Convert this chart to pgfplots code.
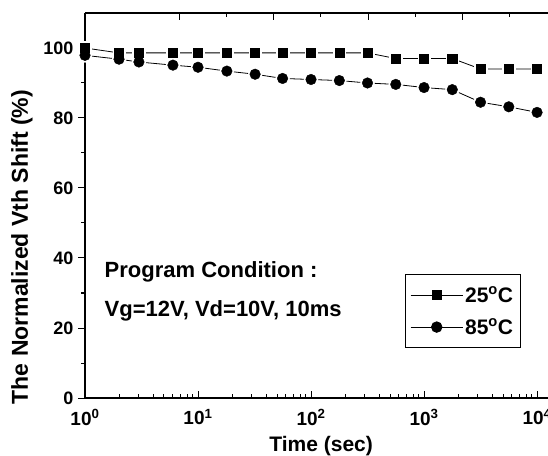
\documentclass[border=0pt]{standalone}
\usepackage{fontspec}
\setmainfont{Liberation Sans}
\usepackage{pgfplots}
\pgfplotsset{compat=1.18}

% retention data, normalized Vth shift (%)
\pgfplotstableread{
t     v
1     100
2     98.6
3     98.6
6     98.6
10    98.6
18    98.6
32    98.6
56    98.6
100   98.6
178   98.6
316   98.6
562   97.0
1000  97.0
1778  97.0
3162  94.0
5623  94.0
10000 94.0
}\roomtemp
\pgfplotstableread{
t     v
1     97.9
2     96.8
3     96.0
6     95.1
10    94.5
18    93.4
32    92.5
56    91.3
100   91.0
178   90.7
316   90.0
562   89.6
1000  88.7
1778  88.1
3162  84.5
5623  83.2
10000 81.6
}\hightemp

\begin{document}
\begin{tikzpicture}
\pgfplotsset{
  every axis/.append style={
    width=463pt, height=385pt, scale only axis,
    axis line style={line width=1.1pt},
    major tick length=7pt, minor tick length=4pt,
    every tick/.style={line width=1pt, black},
  },
}
% top axis ticks only (linear spacing, as in the original)
\begin{axis}[
  xmin=0, xmax=9.81, ymin=0, ymax=110,
  axis x line*=top, axis y line=none,
  xtick={2,4,6,8,10}, minor x tick num=1,
  xticklabels={}, xtick align=inside,
]
\addplot[draw=none, forget plot] coordinates {(0,0)};
\end{axis}

\begin{axis}[
  xmode=log, xmin=1, xmax=12500, ymin=0, ymax=110,
  axis x line*=bottom, axis y line*=left,
  xtick align=inside, ytick align=outside,
  xtick={1,10,100,1000,10000},
  xticklabels={10\textsuperscript{0},10\textsuperscript{1},10\textsuperscript{2},10\textsuperscript{3},10\textsuperscript{4}},
  ytick={0,20,40,60,80,100}, minor y tick num=1,
  /pgf/number format/assume math mode=true,
  ticklabel style={font=\bfseries\fontsize{18}{18}\selectfont},
  xticklabel style={yshift=-8pt, font=\bfseries\fontsize{19}{19}\selectfont},
  yticklabel style={xshift=-1pt},
  xlabel={Time (sec)}, ylabel={The Normalized Vth Shift (\%)},
  xlabel style={at={(axis description cs:0.510,-0.124)}, anchor=center,
    inner sep=0pt, font=\bfseries\fontsize{21}{21}\selectfont},
  ylabel style={at={(axis description cs:-0.136,0.392)}, anchor=center,
    font=\bfseries\fontsize{23}{23}\selectfont},
  clip=false,
  legend style={at={(axis description cs:0.691,0.130)}, anchor=south west,
    draw=black, line width=0.8pt, font=\bfseries\fontsize{21}{21}\selectfont,
    inner xsep=5pt, inner ysep=10pt, row sep=11pt,
    /tikz/every even column/.append style={column sep=10pt}},
  legend cell align=left,
  legend image code/.code={%
    \draw[mark repeat=2,mark phase=2,#1] plot coordinates {(0pt,0pt)(26pt,0pt)(52pt,0pt)};},
]
% connecting lines
\addplot[black, line width=0.8pt, forget plot] table[x=t,y=v] {\roomtemp};
\addplot[black, line width=0.8pt, forget plot] table[x=t,y=v] {\hightemp};
% white halos so lines stop short of the marks
\addplot[only marks, mark=square*, mark size=6.3pt, white, forget plot] table[x=t,y=v] {\roomtemp};
\addplot[only marks, mark=*, mark size=7pt, white, forget plot] table[x=t,y=v] {\hightemp};
% marks
\addplot[only marks, mark=square*, mark size=4.6pt, black, forget plot] table[x=t,y=v] {\roomtemp};
\addplot[only marks, mark=*, mark size=5.3pt, black, forget plot] table[x=t,y=v] {\hightemp};

\addlegendimage{black, line width=0.8pt, mark=square*, mark size=4.6pt}
\addlegendentry{25\textsuperscript{o}C}
\addlegendimage{black, line width=0.8pt, mark=*, mark size=5.3pt}
\addlegendentry{85\textsuperscript{o}C}

\node[anchor=west, font=\bfseries\fontsize{22}{22}\selectfont]
  at (axis description cs:0.035,0.327) {Program Condition :};
\node[anchor=west, font=\bfseries\fontsize{22}{22}\selectfont]
  at (axis description cs:0.035,0.226) {Vg=12V, Vd=10V, 10ms};

\coordinate (bl) at (rel axis cs:0,0);
\end{axis}
\pgfresetboundingbox
\path[use as bounding box] ([shift={(-85pt,-57pt)}]bl) rectangle ([shift={(463pt,398pt)}]bl);
\end{tikzpicture}
\end{document}
